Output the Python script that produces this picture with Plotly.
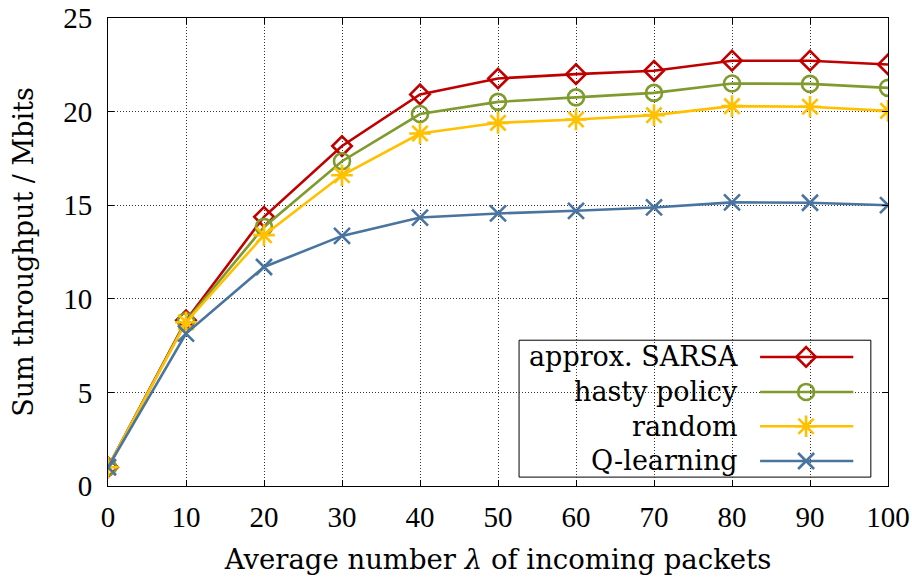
import plotly.graph_objects as go

lam = [0, 10, 20, 30, 40, 50, 60, 70, 80, 90, 100]
sarsa = [1.0, 8.85, 14.38, 18.16, 20.92, 21.77, 22.0, 22.18, 22.72, 22.72, 22.52]
hasty = [1.0, 8.8, 13.84, 17.35, 19.87, 20.52, 20.76, 21.0, 21.5, 21.48, 21.27]
rand_ = [1.0, 8.75, 13.4, 16.6, 18.83, 19.4, 19.58, 19.81, 20.29, 20.26, 20.04]
qlearn = [1.0, 8.14, 11.7, 13.36, 14.34, 14.56, 14.7, 14.88, 15.15, 15.13, 15.0]

names = ["approx. SARSA", "hasty policy", "random", "Q-learning"]
colors = ["#C00000", "#7F9B2E", "#FFC000", "#4A74A0"]
symbols = ["diamond-open", "circle-open", "asterisk-open", "x-thin-open"]
sizes = [15, 16, 18, 16]
series = [sarsa, hasty, rand_, qlearn]

x_ticks = list(range(0, 101, 10))
y_ticks = list(range(0, 26, 5))

FONT = "DejaVu Serif"
TICKFONT = "Liberation Serif"
FS = 27
fig = go.Figure()

for name, col, sym, sz, ys in zip(names, colors, symbols, sizes, series):
    fig.add_trace(go.Scatter(
        x=lam, y=ys, mode="lines+markers", name=name,
        line=dict(color=col, width=2.6),
        marker=dict(symbol=sym, size=sz, color=col, line=dict(color=col, width=2.6)),
        showlegend=False,
    ))

# manual legend (symbol on the right, text right-aligned)
leg_rows = [0.2758, 0.201, 0.1276, 0.0535]
for name, col, sym, sz, yy in zip(names, colors, symbols, sizes, leg_rows):
    fig.add_trace(go.Scatter(
        x=[0.836, 0.9555], y=[yy, yy], mode="lines", xaxis="x2", yaxis="y2",
        line=dict(color=col, width=2.6), showlegend=False, hoverinfo="skip",
    ))
    fig.add_trace(go.Scatter(
        x=[0.895], y=[yy], mode="markers", xaxis="x2", yaxis="y2",
        marker=dict(symbol=sym, size=sz, color=col, line=dict(color=col, width=2.6)),
        showlegend=False, hoverinfo="skip",
    ))
    fig.add_annotation(x=0.8103, y=yy, xref="paper", yref="paper", text=name,
                       showarrow=False, xanchor="right", yanchor="middle",
                       font=dict(family=FONT, size=FS, color="black"))

fig.add_shape(type="rect", xref="paper", yref="paper", x0=0.527, x1=0.978,
              y0=0.019, y1=0.3115, line=dict(color="black", width=1),
              fillcolor="white", layer="between")

axis_common = dict(
    showline=True, linecolor="black", linewidth=1, mirror="ticks",
    ticks="inside", ticklen=6, tickcolor="black", tickwidth=1,
    showgrid=True, gridcolor="#333333", gridwidth=1, griddash="1px,2px",
    zeroline=False, tickfont=dict(family=TICKFONT, size=29, color="black"),
    automargin=False, ticklabeloverflow="allow",
)

fig.update_layout(
    width=912, height=577,
    margin=dict(l=108, r=24, t=18, b=91),
    paper_bgcolor="white", plot_bgcolor="white",
    font=dict(family=FONT, color="black"),
    xaxis=dict(range=[0, 100], tickvals=x_ticks, ticklabelstandoff=5,
               title=dict(text="Average number <i>λ</i> of incoming packets",
                          font=dict(family=FONT, size=FS + 0.5), standoff=17),
               **axis_common),
    yaxis=dict(range=[0, 25], tickvals=y_ticks, ticklabelstandoff=9,
               title=dict(text="Sum throughput / Mbits",
                          font=dict(family=FONT, size=FS), standoff=21),
               **axis_common),
    xaxis2=dict(overlaying="x", range=[0, 1], visible=False, anchor="y2"),
    yaxis2=dict(overlaying="y", range=[0, 1], visible=False, anchor="x2"),
)

fig.write_html("out.html", config={"displayModeBar": False},
               post_script="document.body.style.margin='0';document.body.style.padding='0';")
